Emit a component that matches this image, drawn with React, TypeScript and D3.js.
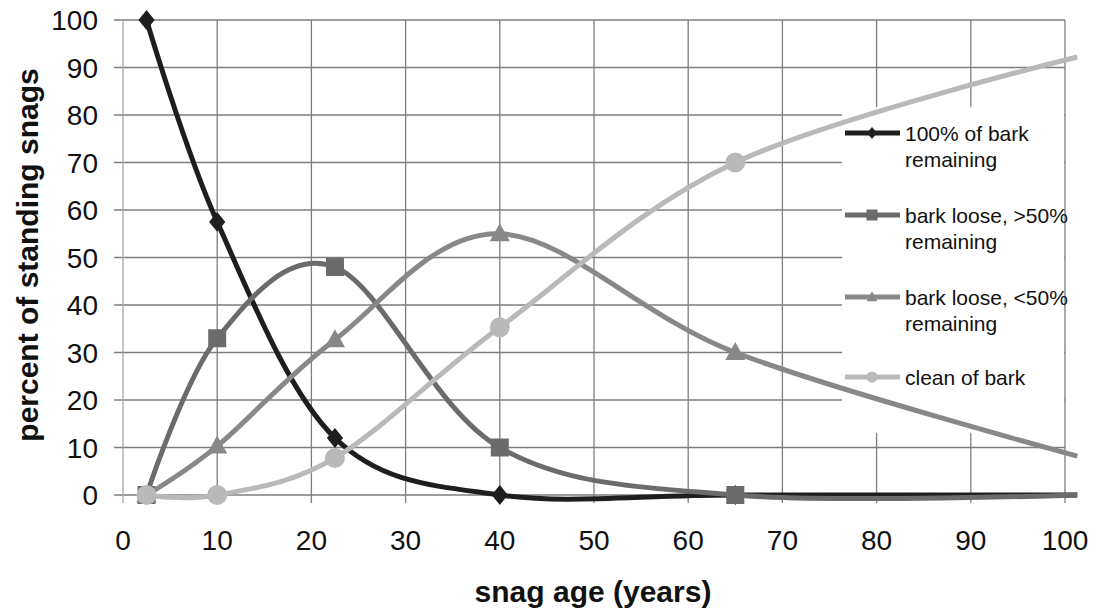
import React, { useEffect, useRef } from 'react';
import * as d3 from 'd3';

// snag age (years) at each sampled point
const ages = [2.5, 10, 22.5, 40, 65, 101.3];
// percent of standing snags per bark class
const fullBark = [100, 57.5, 12, 0, 0, 0];
const looseMore = [0, 33, 48, 10, 0, 0];
const looseLess = [0, 10.3, 32.7, 55, 30, 8.2];
const cleanBark = [0, 0, 7.8, 35.3, 70, 92.2];
// the last point of each series is drawn without a marker
const markedPoints = 5;

const xTicks = [0, 10, 20, 30, 40, 50, 60, 70, 80, 90, 100];
const yTicks = [0, 10, 20, 30, 40, 50, 60, 70, 80, 90, 100];

const seriesNames = [
  ['100% of bark', 'remaining'],
  ['bark loose, >50%', 'remaining'],
  ['bark loose, <50%', 'remaining'],
  ['clean of bark'],
];

const W = 1096;
const H = 609;
const FONT = '"Liberation Sans", Arial, Helvetica, sans-serif';

type Marker = 'diamond' | 'square' | 'triangle' | 'circle';

const App: React.FC = () => {
  const svgRef = useRef<SVGSVGElement>(null);

  useEffect(() => {
    const svg = d3.select(svgRef.current);
    svg.selectAll('*').remove();

    const x = d3.scaleLinear().domain([0, 100]).range([123, 1065]);
    const y = d3.scaleLinear().domain([0, 100]).range([495, 20]);

    const series = [
      { values: fullBark, color: '#1e1e1e', marker: 'diamond' as Marker, size: 18 },
      { values: looseMore, color: '#6b6b6b', marker: 'square' as Marker, size: 18 },
      { values: looseLess, color: '#888888', marker: 'triangle' as Marker, size: 20 },
      { values: cleanBark, color: '#b9b9b9', marker: 'circle' as Marker, size: 20 },
    ];

    const grid = svg.append('g');
    // horizontal gridlines plus tick stubs to the left
    yTicks.forEach(t => {
      grid.append('line')
        .attr('x1', 114).attr('x2', x(100))
        .attr('y1', y(t)).attr('y2', y(t))
        .attr('stroke', '#7e7e7e').attr('stroke-width', 1.3);
    });
    // vertical gridlines plus tick stubs below
    xTicks.forEach(t => {
      grid.append('line')
        .attr('x1', x(t)).attr('x2', x(t))
        .attr('y1', y(100)).attr('y2', 503)
        .attr('stroke', t === 0 ? '#a8a8a8' : '#7e7e7e').attr('stroke-width', 1.3);
    });

    // legend background hides the grid behind it
    const legendX = 842;
    svg.append('rect')
      .attr('x', legendX).attr('y', 107)
      .attr('width', x(100) - legendX - 1).attr('height', 326)
      .attr('fill', '#fff');

    // tick labels
    svg.append('g').selectAll('text').data(yTicks).join('text')
      .attr('x', 98).attr('y', d => y(d))
      .attr('dy', '0.36em')
      .attr('text-anchor', 'end')
      .attr('font-family', FONT).attr('font-size', 28)
      .attr('fill', '#111')
      .text(d => d);

    svg.append('g').selectAll('text').data(xTicks).join('text')
      .attr('x', d => x(d)).attr('y', 550)
      .attr('text-anchor', 'middle')
      .attr('font-family', FONT).attr('font-size', 28)
      .attr('fill', '#111')
      .text(d => d);

    // axis titles
    svg.append('text')
      .attr('transform', `translate(38,${(63 + 447) / 2}) rotate(-90)`)
      .attr('text-anchor', 'middle')
      .attr('font-family', FONT).attr('font-size', 30).attr('font-weight', 'bold')
      .attr('fill', '#111')
      .text('percent of standing snags');

    svg.append('text')
      .attr('x', 593).attr('y', 602)
      .attr('text-anchor', 'middle')
      .attr('font-family', FONT).attr('font-size', 30).attr('font-weight', 'bold')
      .attr('fill', '#111')
      .text('snag age (years)');

    const drawMarker = (g: any, kind: Marker, cx: number, cy: number, s: number, color: string) => {
      const h = s / 2;
      if (kind === 'circle') {
        g.append('circle').attr('cx', cx).attr('cy', cy).attr('r', h).attr('fill', color);
      } else if (kind === 'square') {
        g.append('rect').attr('x', cx - h).attr('y', cy - h).attr('width', s).attr('height', s).attr('fill', color);
      } else if (kind === 'diamond') {
        g.append('path')
          .attr('d', `M${cx},${cy - h * 1.1}L${cx + h * 0.9},${cy}L${cx},${cy + h * 1.1}L${cx - h * 0.9},${cy}Z`)
          .attr('fill', color);
      } else {
        g.append('path')
          .attr('d', `M${cx},${cy - h * 1.05}L${cx + h},${cy + h * 0.75}L${cx - h},${cy + h * 0.75}Z`)
          .attr('fill', color);
      }
    };

    const line = d3.line<[number, number]>()
      .x(d => x(d[0]))
      .y(d => y(d[1]))
      .curve(d3.curveCardinal.tension(0));

    series.forEach(s => {
      const pts = ages.map((a, i) => [a, s.values[i]] as [number, number]);
      const g = svg.append('g');
      g.append('path')
        .attr('d', line(pts) ?? '')
        .attr('fill', 'none')
        .attr('stroke', s.color)
        .attr('stroke-width', 5)
        .attr('stroke-linejoin', 'round');
      pts.slice(0, markedPoints).forEach(p => {
        drawMarker(g, s.marker, x(p[0]), y(p[1]), s.size, s.color);
      });
    });

    // legend entries
    const entryY = [133, 215, 297, 377];
    const legend = svg.append('g');
    series.forEach((s, i) => {
      const cy = entryY[i];
      legend.append('line')
        .attr('x1', 845).attr('x2', 900)
        .attr('y1', cy).attr('y2', cy)
        .attr('stroke', s.color).attr('stroke-width', 5);
      drawMarker(legend, s.marker, 872, cy, 11, s.color);
      seriesNames[i].forEach((txt, j) => {
        legend.append('text')
          .attr('x', 905).attr('y', cy + j * 26)
          .attr('dy', '0.36em')
          .attr('font-family', FONT).attr('font-size', 21)
          .attr('fill', '#111')
          .text(txt);
      });
    });
  }, []);

  return (
    <svg
      ref={svgRef}
      width={W}
      height={H}
      style={{ position: 'absolute', left: 0, top: 0, background: '#fff' }}
    />
  );
};

export default App;
